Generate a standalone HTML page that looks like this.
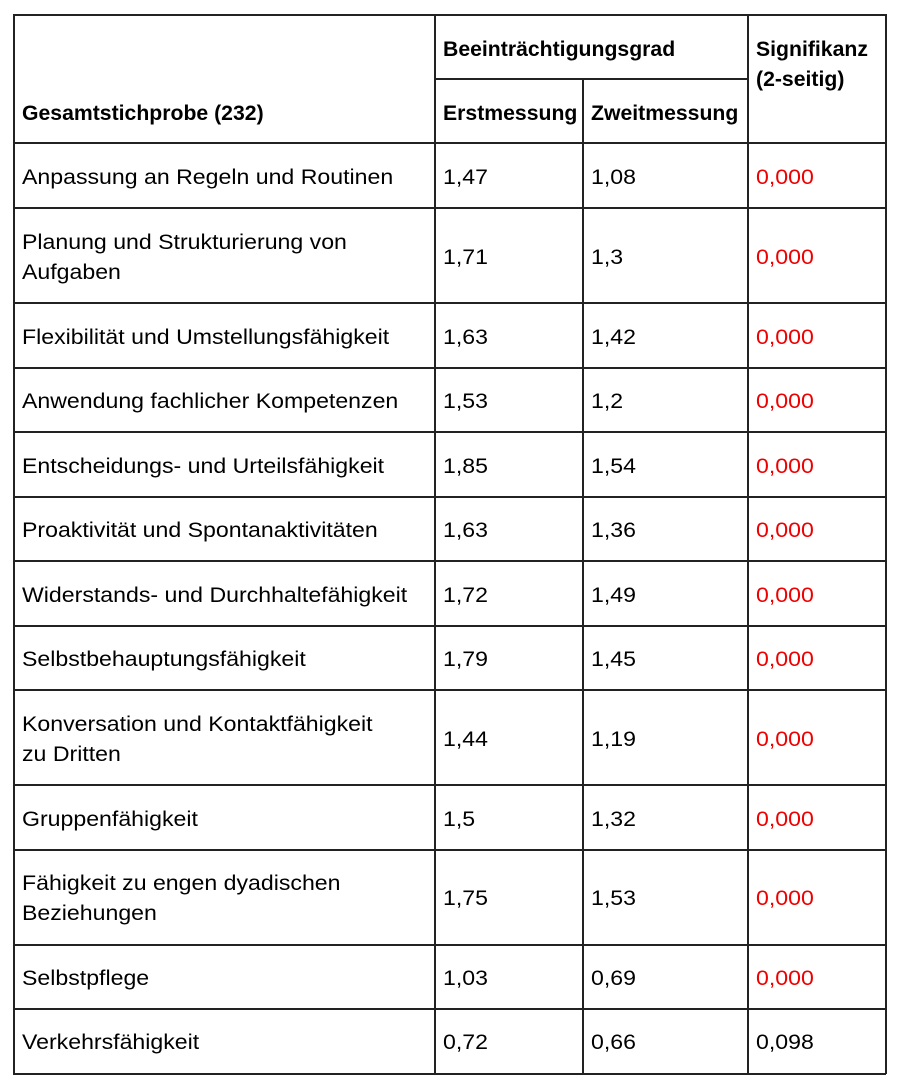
<!DOCTYPE html>
<html><head><meta charset="utf-8"><style>
body{margin:0;width:900px;height:1088px;background:#fff;position:relative;font-family:"Liberation Sans",sans-serif;color:#000;overflow:hidden}
.h,.v{position:absolute;background:#222}
.h{height:1.5px;left:13px;width:873px}
.v{width:1.5px}
.t{position:absolute;font-size:21px;line-height:30px;white-space:nowrap;transform:scaleX(1.1);transform-origin:left center;margin-top:3px}
.b{font-weight:bold;transform:scaleX(1.01)}
.r{color:#e00}
</style></head><body>
<div class="h" style="top:14px"></div>
<div class="h" style="top:78px;left:434px;width:313px"></div>
<div class="h" style="top:142px"></div>
<div class="h" style="top:207px"></div>
<div class="h" style="top:302px"></div>
<div class="h" style="top:367px"></div>
<div class="h" style="top:431px"></div>
<div class="h" style="top:496px"></div>
<div class="h" style="top:560px"></div>
<div class="h" style="top:625px"></div>
<div class="h" style="top:689px"></div>
<div class="h" style="top:784px"></div>
<div class="h" style="top:849px"></div>
<div class="h" style="top:944px"></div>
<div class="h" style="top:1008px"></div>
<div class="h" style="top:1073px"></div>
<div class="v" style="left:13px;top:14px;height:1060px"></div>
<div class="v" style="left:434px;top:14px;height:1060px"></div>
<div class="v" style="left:582px;top:78px;height:996px"></div>
<div class="v" style="left:747px;top:14px;height:1060px"></div>
<div class="v" style="left:885px;top:14px;height:1060px"></div>

<div class="t b" style="left:443px;top:32px">Beeinträchtigungsgrad</div>
<div class="t b" style="left:756px;top:32px">Signifikanz</div>
<div class="t b" style="left:756px;top:62px">(2-seitig)</div>
<div class="t b" style="left:22px;top:96px">Gesamtstichprobe (232)</div>
<div class="t b" style="left:443px;top:96px">Erstmessung</div>
<div class="t b" style="left:591px;top:96px">Zweitmessung</div>

<div class="t" style="left:22px;top:160px">Anpassung an Regeln und Routinen</div><div class="t" style="left:443px;top:160px">1,47</div><div class="t" style="left:591px;top:160px">1,08</div><div class="t r" style="left:756px;top:160px">0,000</div>
<div class="t" style="left:22px;top:225px">Planung und Strukturierung von</div><div class="t" style="left:22px;top:255px">Aufgaben</div><div class="t" style="left:443px;top:240px">1,71</div><div class="t" style="left:591px;top:240px">1,3</div><div class="t r" style="left:756px;top:240px">0,000</div>
<div class="t" style="left:22px;top:320px">Flexibilität und Umstellungsfähigkeit</div><div class="t" style="left:443px;top:320px">1,63</div><div class="t" style="left:591px;top:320px">1,42</div><div class="t r" style="left:756px;top:320px">0,000</div>
<div class="t" style="left:22px;top:384px">Anwendung fachlicher Kompetenzen</div><div class="t" style="left:443px;top:384px">1,53</div><div class="t" style="left:591px;top:384px">1,2</div><div class="t r" style="left:756px;top:384px">0,000</div>
<div class="t" style="left:22px;top:449px">Entscheidungs- und Urteilsfähigkeit</div><div class="t" style="left:443px;top:449px">1,85</div><div class="t" style="left:591px;top:449px">1,54</div><div class="t r" style="left:756px;top:449px">0,000</div>
<div class="t" style="left:22px;top:513px">Proaktivität und Spontanaktivitäten</div><div class="t" style="left:443px;top:513px">1,63</div><div class="t" style="left:591px;top:513px">1,36</div><div class="t r" style="left:756px;top:513px">0,000</div>
<div class="t" style="left:22px;top:578px">Widerstands- und Durchhaltefähigkeit</div><div class="t" style="left:443px;top:578px">1,72</div><div class="t" style="left:591px;top:578px">1,49</div><div class="t r" style="left:756px;top:578px">0,000</div>
<div class="t" style="left:22px;top:642px">Selbstbehauptungsfähigkeit</div><div class="t" style="left:443px;top:642px">1,79</div><div class="t" style="left:591px;top:642px">1,45</div><div class="t r" style="left:756px;top:642px">0,000</div>
<div class="t" style="left:22px;top:707px">Konversation und Kontaktfähigkeit</div><div class="t" style="left:22px;top:737px">zu Dritten</div><div class="t" style="left:443px;top:722px">1,44</div><div class="t" style="left:591px;top:722px">1,19</div><div class="t r" style="left:756px;top:722px">0,000</div>
<div class="t" style="left:22px;top:802px">Gruppenfähigkeit</div><div class="t" style="left:443px;top:802px">1,5</div><div class="t" style="left:591px;top:802px">1,32</div><div class="t r" style="left:756px;top:802px">0,000</div>
<div class="t" style="left:22px;top:866px">Fähigkeit zu engen dyadischen</div><div class="t" style="left:22px;top:896px">Beziehungen</div><div class="t" style="left:443px;top:881px">1,75</div><div class="t" style="left:591px;top:881px">1,53</div><div class="t r" style="left:756px;top:881px">0,000</div>
<div class="t" style="left:22px;top:961px">Selbstpflege</div><div class="t" style="left:443px;top:961px">1,03</div><div class="t" style="left:591px;top:961px">0,69</div><div class="t r" style="left:756px;top:961px">0,000</div>
<div class="t" style="left:22px;top:1025px">Verkehrsfähigkeit</div><div class="t" style="left:443px;top:1025px">0,72</div><div class="t" style="left:591px;top:1025px">0,66</div><div class="t" style="left:756px;top:1025px">0,098</div>
</body></html>
